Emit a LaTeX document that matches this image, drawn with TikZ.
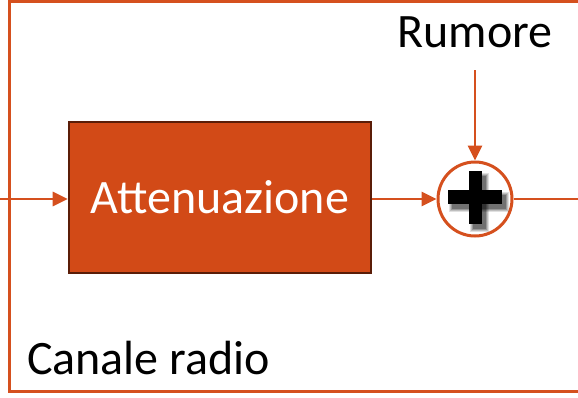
\documentclass[tikz,border=0pt]{standalone}
\usepackage{fontspec}
\setmainfont{Carlito}
\usetikzlibrary{arrows.meta}
\definecolor{orng}{HTML}{D24A17}
\definecolor{lineor}{HTML}{D5501E}
\definecolor{dkbrn}{HTML}{5A1D08}
\tikzset{
  conn/.style={draw=lineor, line width=2.8pt},
  arr/.style={conn, -{Triangle[length=15pt,width=14pt]}},
  blockbox/.style={draw=dkbrn, line width=2.6pt, fill=orng, minimum width=302pt, minimum height=151pt, text=white, font=\fontsize{48}{50}\selectfont, inner sep=0pt},
  sumnode/.style={circle, draw=lineor, line width=3pt, fill=white, minimum size=74pt, inner sep=0pt},
  lbl/.style={font=\fontsize{48}{50}\selectfont, inner sep=0pt}
}
\begin{document}
\begin{tikzpicture}[x=1pt,y=-1pt]
\useasboundingbox (0,0) rectangle (578,397);
\draw[lineor, line width=3pt] (600,1) -- (9,1) -- (9,391) -- (600,391);
\node[blockbox] (att) at (220,197.5) {Attenuazione};
\node[sumnode] (sum) at (475,199) {};
\coordinate (in) at (0,199);
\coordinate (out) at (578,199);
\node[lbl, anchor=base] (rum) at (475,47) {Rumore};
\node[lbl, anchor=base west] (can) at (27,374) {Canale radio};
\coordinate (rumtop) at (475,70);
% plus sign with soft shadow
\foreach \d/\o in {3/0.12,2/0.15,1/0.2,0/0.25}{
  \fill[black, opacity=\o] (469+4-\d,171+5-\d) rectangle (482+4+\d,224+5+\d);
  \fill[black, opacity=\o] (448+4-\d,190+5-\d) rectangle (502+4+\d,204+5+\d);
}
\fill[black] (468.5,171) rectangle (482,224);
\fill[black] (448,190) rectangle (502,204);
\draw[arr] (in) -- (in -| att.west);
\draw[arr] (sum.west -| att.east) -- (sum.west);
\draw[arr] (rumtop) -- (sum.north);
\draw[conn] (sum.east) -- (out);
\end{tikzpicture}
\end{document}
